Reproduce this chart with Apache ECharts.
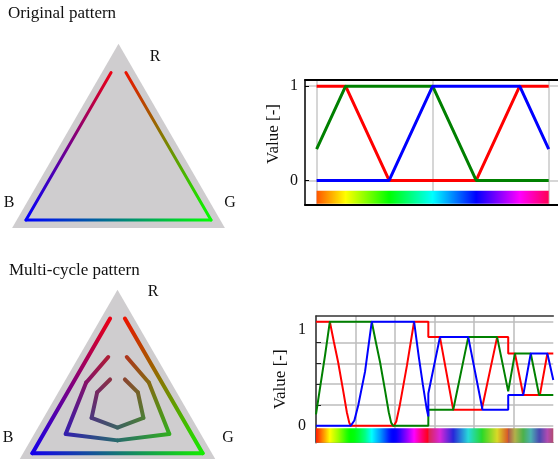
<!DOCTYPE html>
<html>
<head>
<meta charset="utf-8">
<script src="https://cdn.jsdelivr.net/npm/echarts@6/dist/echarts.min.js"></script>
<style>
  html, body { margin: 0; padding: 0; background: #fff; }
  #chart { width: 558px; height: 459px; }
</style>
</head>
<body>
<div id="chart"></div>
<script>
// ternary paths, as [R, G, B] fractions
const grayTriangle = [[1.1, -0.05, -0.05], [-0.05, 1.1, -0.05], [-0.05, -0.05, 1.1]];
const originalPath = [[0.92, 0.08, 0], [0, 1, 0], [0, 0, 1], [0.92, 0, 0.08]];
const multiOuter = [[0.92, 0.08, 0], [0.08, 0.92, 0], [0.08, 0, 0.92], [0.92, 0, 0.08]];
const multiMiddle = [[0.68, 0.21, 0.11], [0.52, 0.41, 0.07], [0.2, 0.68, 0.12], [0.16, 0.42, 0.42],
                     [0.2, 0.12, 0.68], [0.52, 0.07, 0.41], [0.68, 0.11, 0.21]];
const multiInner = [[0.54, 0.27, 0.19], [0.46, 0.38, 0.16], [0.3, 0.49, 0.21], [0.24, 0.38, 0.38],
                    [0.3, 0.21, 0.49], [0.46, 0.16, 0.38], [0.54, 0.19, 0.27]];

// original pattern, value vs position
const origRed = [[0, 1], [0.125, 1], [0.3125, 0], [0.6875, 0], [0.875, 1], [1, 1]];
const origGreen = [[0, 0.333], [0.125, 1], [0.5, 1], [0.6875, 0], [1, 0]];
const origBlue = [[0, 0], [0.3125, 0], [0.5, 1], [0.875, 1], [1, 0.333]];
const origXTicks = [0, 0.5, 1];
const origYTicks = [0, 1];

// multi-cycle pattern
const multiRed = [[0, 1], [0.35, 1], [0.45, 0.81], [0.56, 0.61], [0.69, 0.33], [0.78, 0.13], [0.84, 0.03], [0.88, 0],
  [1.97, 0], [2.03, 0.04], [2.12, 0.2], [2.3, 0.58], [2.48, 1], [2.84, 1], [2.84, 0.852], [3.134, 0.852],
  [3.47, 0.154], [4.19, 0.154], [4.58, 0.852], [4.86, 0.852], [4.86, 0.695], [5.03, 0.695], [5.24, 0.295],
  [5.66, 0.295], [5.85, 0.695], [6, 0.695]];
const multiGreen = [[0, 0.11], [0.1, 0.36], [0.23, 0.68], [0.35, 1], [1.41, 1], [1.51, 0.81], [1.62, 0.61],
  [1.75, 0.33], [1.84, 0.13], [1.9, 0.03], [1.95, 0], [2.84, 0], [2.84, 0.154], [3.47, 0.154], [3.85, 0.852],
  [4.58, 0.852], [4.86, 0.33], [5.03, 0.695], [5.43, 0.695], [5.64, 0.295], [6, 0.295]];
const multiBlue = [[0, 0], [0.88, 0], [0.97, 0.05], [1.07, 0.2], [1.24, 0.52], [1.41, 1], [2.48, 1], [2.6, 0.66],
  [2.7, 0.4], [2.8, 0.16], [2.84, 0.09], [2.84, 0.31], [3.134, 0.852], [3.85, 0.852], [4.21, 0.154],
  [4.86, 0.154], [4.86, 0.295], [5.24, 0.295], [5.43, 0.695], [5.85, 0.695], [6, 0.44]];
const multiXTicks = [0, 1, 2, 3, 4, 5];
const multiYTicks = [0, 0.2, 0.4, 0.6, 0.8, 1];
const multiYLabels = [0, 1];

const SERIF = "'Liberation Serif', 'DejaVu Serif', serif";
const GRAY = '#cfcdcf';
const S3 = Math.sqrt(3) / 2;

const toXY = p => [p[1] + p[0] / 2, p[0] * S3];
const xyColor = xy => {
  const r = xy[1] / S3, g = xy[0] - r / 2, b = 1 - r - g;
  return 'rgb(' + [r, g, b].map(v => Math.round(Math.max(0, Math.min(1, v)) * 255)).join(',') + ')';
};
const segments = path => path.slice(1).map((p, i) => [...toXY(path[i]), ...toXY(p)]);

function valueAt(series, x) {
  let v = series[0][1];
  for (let i = 0; i < series.length - 1; i++) {
    const [x0, y0] = series[i], [x1, y1] = series[i + 1];
    if (x >= x0 && x <= x1) v = x1 === x0 ? y1 : y0 + (y1 - y0) * (x - x0) / (x1 - x0);
  }
  return v;
}
function colorStops(r, g, b, x0, x1) {
  const stops = [];
  const n = 400;
  for (let i = 0; i <= n; i++) {
    const x = x0 + (x1 - x0) * i / n;
    const c = [r, g, b].map(s => Math.round(Math.max(0, Math.min(1, valueAt(s, x))) * 255));
    stops.push({ offset: i / n, color: 'rgb(' + c.join(',') + ')' });
  }
  return stops;
}

const chart = echarts.init(document.getElementById('chart'));

const grayPolygon = idx => ({
  type: 'custom', xAxisIndex: idx, yAxisIndex: idx, silent: true, clip: false,
  data: grayTriangle.map(toXY),
  renderItem: (params, api) => params.dataIndex ? null : {
    type: 'polygon',
    shape: { points: grayTriangle.map(p => api.coord(toXY(p))) },
    style: { fill: GRAY }
  }
});
const pathSeries = (idx, path, width) => ({
  type: 'custom', xAxisIndex: idx, yAxisIndex: idx, silent: true, clip: false,
  data: segments(path),
  encode: { x: [0, 2], y: [1, 3] },
  renderItem: (params, api) => {
    const p = [api.value(0), api.value(1)], q = [api.value(2), api.value(3)];
    const a = api.coord(p), b = api.coord(q);
    return {
      type: 'line',
      shape: { x1: a[0], y1: a[1], x2: b[0], y2: b[1] },
      style: {
        stroke: new echarts.graphic.LinearGradient(a[0], a[1], b[0], b[1],
          [{ offset: 0, color: xyColor(p) }, { offset: 1, color: xyColor(q) }], true),
        lineWidth: width, lineCap: 'round'
      }
    };
  }
});
const curve = (data, color, xi, yi, width) => ({
  type: 'line', data: data, xAxisIndex: xi, yAxisIndex: yi,
  showSymbol: false, symbol: 'none', silent: true,
  lineStyle: { color: color, width: width }
});
const colorBar = (xi, yi, r, g, b, x0, x1, y0, y1) => ({
  type: 'custom', xAxisIndex: xi, yAxisIndex: yi, silent: true,
  data: [[x0, y0, x1, y1]],
  encode: { x: [0, 2], y: [1, 3] },
  renderItem: (params, api) => {
    const a = api.coord([api.value(0), api.value(1)]), c = api.coord([api.value(2), api.value(3)]);
    return {
      type: 'rect',
      shape: { x: a[0], y: a[1], width: c[0] - a[0], height: c[1] - a[1] },
      style: { fill: new echarts.graphic.LinearGradient(0, 0, 1, 0, colorStops(r, g, b, x0, x1)) }
    };
  }
});

const hiddenX = i => ({ type: 'value', gridIndex: i, min: -0.1, max: 1.1, show: false });
const label = (text, x, y, size, align, rotation) => ({
  type: 'text', x: x, y: y, rotation: rotation || 0,
  style: { text: text, font: size + 'px ' + SERIF, fill: '#111', align: align || 'center', verticalAlign: 'middle' }
});

chart.setOption({
  animation: false,
  backgroundColor: '#fff',
  grid: [
    { left: 7.5, top: 35, width: 222, height: 203.5 },
    { left: 6.5, top: 281, width: 222, height: 178 },
    { left: 305, top: 80, width: 253, height: 125 },
    { left: 316, top: 316, width: 237.3, height: 126.7 }
  ],
  xAxis: [
    hiddenX(0), hiddenX(1),
    {
      type: 'value', gridIndex: 2, min: -0.05, max: 1.04, position: 'bottom',
      axisLine: { onZero: false, lineStyle: { color: '#000', width: 2 } },
      axisTick: { show: false, customValues: origXTicks },
      axisLabel: { show: false },
      splitLine: { show: true, lineStyle: { color: '#c8c8c8', width: 1.5 } }
    },
    {
      type: 'value', gridIndex: 2, min: -0.05, max: 1.04, position: 'top',
      axisLine: { onZero: false, lineStyle: { color: '#000', width: 2 } },
      axisTick: { show: false }, axisLabel: { show: false }, splitLine: { show: false }
    },
    {
      type: 'value', gridIndex: 3, min: 0, max: 6, position: 'bottom',
      axisLine: { onZero: false, lineStyle: { color: '#888', width: 1 } },
      axisTick: { show: false, customValues: multiXTicks },
      axisLabel: { show: false },
      splitLine: { show: true, lineStyle: { color: '#bdbdbd', width: 1.5 } }
    },
    {
      type: 'value', gridIndex: 3, min: 0, max: 6, position: 'top',
      axisLine: { onZero: false, lineStyle: { color: '#333', width: 1.5 } },
      axisTick: { show: false }, axisLabel: { show: false }, splitLine: { show: false }
    }
  ],
  yAxis: [
    { type: 'value', gridIndex: 0, min: -0.1, max: 1.0, show: false },
    { type: 'value', gridIndex: 1, min: 1 - 178 / 185, max: 1.0, show: false },
    {
      type: 'value', gridIndex: 2, min: -0.26, max: 1.065,
      axisLine: { onZero: false, lineStyle: { color: '#000', width: 1.5 } },
      axisTick: { inside: true, length: 4, customValues: origYTicks, lineStyle: { color: '#000' } },
      axisLabel: { customValues: origYTicks, margin: 7, fontFamily: SERIF, fontSize: 16, color: '#111' },
      splitLine: { show: true, lineStyle: { color: '#c8c8c8', width: 1.5 } }
    },
    {
      type: 'value', gridIndex: 3, min: -0.163, max: 1.055,
      name: 'Value [-]', nameLocation: 'middle', nameGap: 27, nameRotate: 90,
      nameTextStyle: { fontFamily: SERIF, fontSize: 17, color: '#111' },
      axisLine: { onZero: false, lineStyle: { color: '#333', width: 1.5 } },
      axisTick: { inside: true, length: 5, customValues: multiYTicks, lineStyle: { color: '#222' } },
      axisLabel: {
        customValues: multiYLabels, margin: 10, fontFamily: SERIF, fontSize: 16, color: '#111',
        formatter: v => v === 1 ? '{one|1}' : '{n|' + v + '}',
        rich: { one: { padding: [16, 0, 0, 0], fontFamily: SERIF, fontSize: 16 }, n: { fontFamily: SERIF, fontSize: 16 } }
      },
      splitLine: { show: true, lineStyle: { color: '#bdbdbd', width: 1.5 } }
    }
  ],
  graphic: [
    label('Original pattern', 8, 14, 17, 'left'),
    label('R', 155, 57, 16), label('B', 9, 203, 16), label('G', 230, 203, 16),
    label('Value [-]', 274, 134, 17, 'center', Math.PI / 2),
    label('Multi-cycle pattern', 9, 271, 17, 'left'),
    label('R', 153, 292, 16), label('B', 8, 438, 16), label('G', 228, 438, 16)
  ],
  series: [
    grayPolygon(0),
    pathSeries(0, originalPath, 3),
    grayPolygon(1),
    pathSeries(1, multiOuter, 4),
    pathSeries(1, multiMiddle, 4),
    pathSeries(1, multiInner, 4),
    curve(origRed, '#ff0000', 2, 2, 3),
    curve(origGreen, '#008000', 2, 2, 3),
    curve(origBlue, '#0000ff', 2, 2, 3),
    colorBar(2, 2, origRed, origGreen, origBlue, 0, 1, -0.11, -0.248),
    curve(multiRed, '#ff0000', 4, 3, 2),
    curve(multiGreen, '#008000', 4, 3, 2),
    curve(multiBlue, '#0000ff', 4, 3, 2),
    colorBar(4, 3, multiRed, multiGreen, multiBlue, 0, 6, -0.025, -0.163)
  ]
});
</script>
</body>
</html>
